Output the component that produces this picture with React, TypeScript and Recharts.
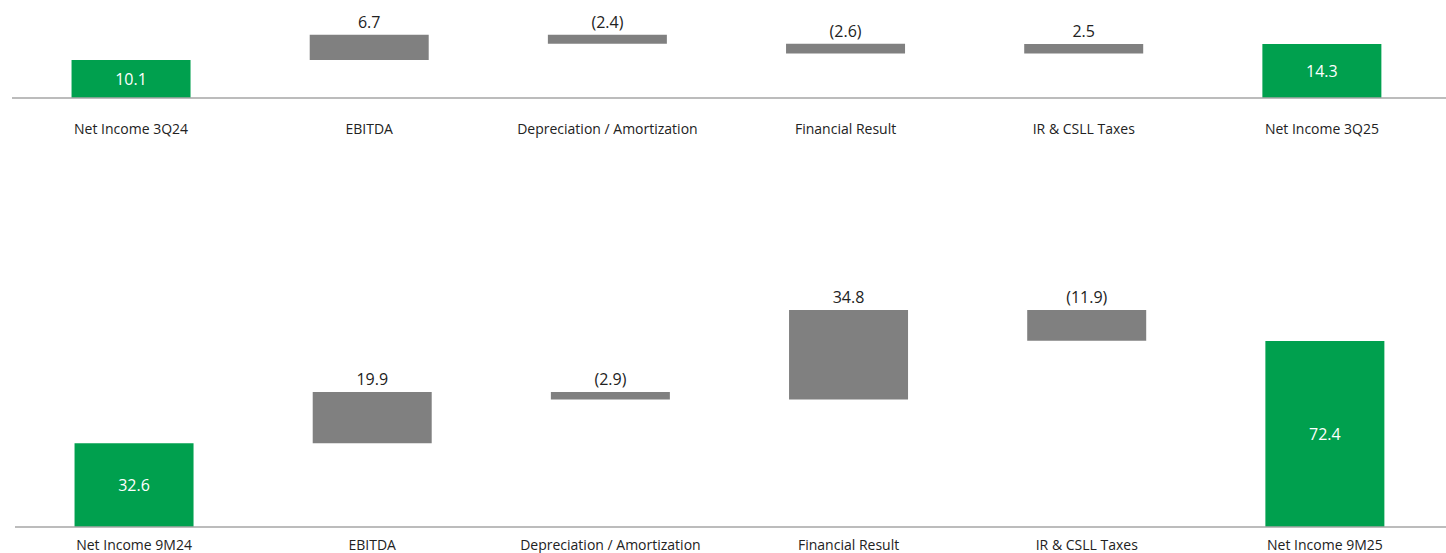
import { BarChart, Bar, XAxis, YAxis, Cell, LabelList } from 'recharts';

const quarterCategories = ['Net Income 3Q24', 'EBITDA', 'Depreciation / Amortization', 'Financial Result', 'IR & CSLL Taxes', 'Net Income 3Q25'];
const quarterValues = [10.1, 6.7, -2.4, -2.6, 2.5, 14.3];

const ytdCategories = ['Net Income 9M24', 'EBITDA', 'Depreciation / Amortization', 'Financial Result', 'IR & CSLL Taxes', 'Net Income 9M25'];
const ytdValues = [32.6, 19.9, -2.9, 34.8, -11.9, 72.4];

const GREEN = '#00A04E';
const GREY = '#808080';
const FONT = '"Open Sans", "Noto Sans", sans-serif';

// first and last entries are totals, the rest are steps
function buildRows(categories: string[], values: number[]) {
  let running = 0;
  return categories.map((name, i) => {
    const v = values[i];
    const isTotal = i === 0 || i === categories.length - 1;
    let base = 0;
    if (isTotal) {
      running = v;
    } else {
      base = v >= 0 ? running : running + v;
      running += v;
    }
    return { name, base, delta: Math.abs(v), value: v, isTotal, idx: i };
  });
}

const fmt = (v: number) => (v < 0 ? `(${Math.abs(v).toFixed(1)})` : v.toFixed(1));

interface WaterfallProps {
  categories: string[];
  values: number[];
  top: number;
  height: number;
  axisHeight: number;
  left: number;
  padRight: number;
  max: number;
  tickGap: number;
}

function Waterfall({ categories, values, top, height, axisHeight, left, padRight, max, tickGap }: WaterfallProps) {
  const rows = buildRows(categories, values);

  const renderTick = (props: any) => {
    const { x, y, payload } = props;
    return (
      <text x={x} y={y + tickGap} textAnchor="middle" dominantBaseline="central" fontSize={14} fill="#222" fontFamily={FONT}>
        {payload.value}
      </text>
    );
  };

  const renderLabel = (props: any) => {
    const { x, y, width, height: h, value } = props;
    const row = rows[value];
    if (!row) return null;
    if (row.isTotal) {
      return (
        <text x={x + width / 2} y={y + h / 2} textAnchor="middle" dominantBaseline="central" fontSize={16} fill="#fff" fontFamily={FONT}>
          {fmt(row.value)}
        </text>
      );
    }
    return (
      <text x={x + width / 2} y={y - 13} textAnchor="middle" dominantBaseline="central" fontSize={16} fill="#222" fontFamily={FONT}>
        {fmt(row.value)}
      </text>
    );
  };

  return (
    <div style={{ position: 'absolute', left: 0, top }}>
      <BarChart
        width={1446}
        height={height}
        data={rows}
        margin={{ top: 0, right: 0, left, bottom: 0 }}
        barCategoryGap="25%"
      >
        <XAxis
          dataKey="name"
          height={axisHeight}
          tickSize={0}
          tickMargin={0}
          interval={0}
          tick={renderTick}
          axisLine={{ stroke: '#A6A6A6', strokeWidth: 1.5 }}
          padding={{ left: 0, right: padRight }}
        />
        <YAxis hide domain={[0, max]} width={0} />
        <Bar dataKey="base" stackId="w" fill="transparent" isAnimationActive={false} />
        <Bar dataKey="delta" stackId="w" isAnimationActive={false}>
          {rows.map((r, i) => (
            <Cell key={`c-${i}`} fill={r.isTotal ? GREEN : GREY} />
          ))}
          <LabelList dataKey="idx" content={renderLabel} />
        </Bar>
      </BarChart>
    </div>
  );
}

export default function App() {
  return (
    <div style={{ position: 'fixed', left: 0, top: 0, width: 1446, height: 553, background: '#fff', overflow: 'hidden' }}>
      <style>{'html,body{margin:0;padding:0;overflow:hidden}'}</style>
      <Waterfall categories={quarterCategories} values={quarterValues} top={0} height={140} axisHeight={42} left={12} padRight={5} max={26} tickGap={30} />
      <Waterfall categories={ytdCategories} values={ytdValues} top={270} height={283} axisHeight={26} left={15} padRight={2} max={100} tickGap={17} />
    </div>
  );
}
